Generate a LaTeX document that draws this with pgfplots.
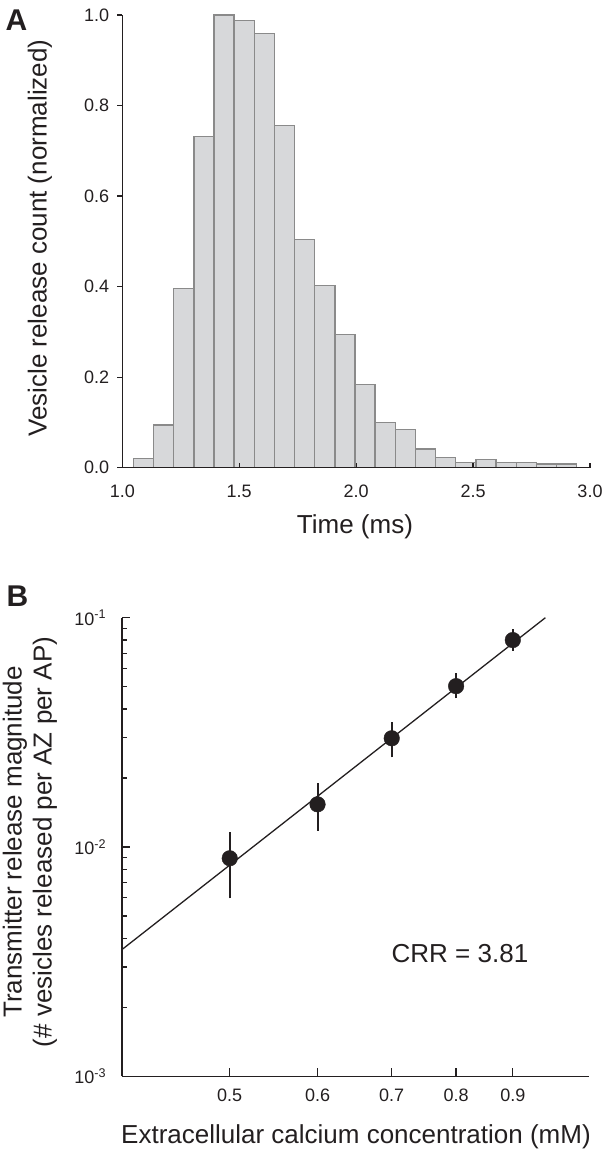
\documentclass[border=0pt]{standalone}
\usepackage{fontspec}
\setmainfont{Liberation Sans}
\usepackage{pgfplots}
\pgfplotsset{compat=1.18}
\definecolor{barfill}{HTML}{D7D8DA}
\definecolor{baredge}{HTML}{8A8A8A}
\definecolor{ink}{HTML}{231F20}
\begin{document}
\begin{tikzpicture}
\useasboundingbox (0pt,0pt) rectangle (603pt,1153pt);
% ---------------- Panel A ----------------
\begin{axis}[
  at={(122.3pt,685.3pt)}, anchor=south west,
  scale only axis, width=467.7pt, height=452.7pt,
  xmin=1, xmax=3, ymin=0, ymax=1,
  axis x line*=bottom, axis y line*=left,
  axis line style={line width=1.6pt, color=ink},
  axis on top, clip=false,
  xtick={1,1.5,2,2.5,3}, xticklabels={1.0,1.5,2.0,2.5,3.0},
  ytick={0,0.2,0.4,0.6,0.8,1}, yticklabels={0.0,0.2,0.4,0.6,0.8,1.0},
  xtick align=inside, ytick align=outside,
  major tick length=5pt,
  tick style={line width=1.2pt, color=ink},
  tick label style={font=\fontsize{18}{21}\selectfont, text=ink},
  xticklabel style={anchor=base, inner sep=0pt, yshift=-29.6pt},
  yticklabel style={anchor=east, inner sep=0pt, xshift=-8pt},
  xlabel={Time (ms)},
  xlabel style={at={(axis description cs:0.4975,-0.131)}, anchor=center, font=\fontsize{26}{30}\selectfont, text=ink},
  ylabel={Vesicle release count (normalized)},
  ylabel style={at={(axis description cs:-0.176,0.507)}, anchor=center, font=\fontsize{26}{30}\selectfont, text=ink},
]
\addplot[ybar interval, fill=barfill, draw=baredge, line width=1.3pt] coordinates {
(1.047,0.020) (1.133,0.094) (1.219,0.396) (1.306,0.731) (1.392,1.000)
(1.478,0.988) (1.564,0.959) (1.650,0.756) (1.737,0.504) (1.823,0.402)
(1.909,0.294) (1.995,0.184) (2.081,0.100) (2.168,0.085) (2.254,0.041)
(2.340,0.022) (2.426,0.012) (2.512,0.018) (2.598,0.012) (2.685,0.012)
(2.771,0.008) (2.857,0.008) (2.943,0.008)
};
\end{axis}
% ---------------- Panel B ----------------
\begin{axis}[
  at={(122.3pt,76.7pt)}, anchor=south west,
  scale only axis, width=467pt, height=458.6pt,
  xmode=log, ymode=log,
  xmin=0.4, xmax=1.055, ymin=0.001, ymax=0.1,
  axis x line*=bottom, axis y line*=left,
  axis line style={line width=1.6pt, color=ink},
  clip=false,
  xtick={0.5,0.6,0.7,0.8,0.9}, xticklabels={0.5,0.6,0.7,0.8,0.9},
  ytick={0.001,0.01,0.1},
  yticklabels={10\textsuperscript{-3},10\textsuperscript{-2},10\textsuperscript{-1}},
  xminorticks=false,
  tick align=inside, major tick length=8pt, minor tick length=5pt,
  tick style={line width=1.2pt, color=ink},
  minor tick style={line width=1.2pt, color=ink},
  tick label style={font=\fontsize{18}{21}\selectfont, text=ink},
  xticklabel style={anchor=base, inner sep=0pt, yshift=-25.4pt},
  yticklabel style={anchor=east, inner sep=0pt, xshift=-16pt},
  xlabel={Extracellular calcium concentration (mM)},
  xlabel style={at={(axis description cs:0.5004,-0.1324)}, anchor=center, font=\fontsize{26}{30}\selectfont, text=ink},
  ylabel={Transmitter release magnitude\\(\# vesicles released per AZ per AP)},
  ylabel style={at={(axis description cs:-0.1976,0.511)}, anchor=center, align=center, font=\fontsize{26}{30}\selectfont, text=ink},
]
\addplot[ink, line width=1.3pt] coordinates {(0.4,0.00358) (0.963,0.1)};
% error bars (low, high)
\addplot[ink, line width=2pt] coordinates {(0.5,0.00597) (0.5,0.01167)};
\addplot[ink, line width=2pt] coordinates {(0.6,0.01178) (0.6,0.01897)};
\addplot[ink, line width=2pt] coordinates {(0.7,0.0246) (0.7,0.0352)};
\addplot[ink, line width=2pt] coordinates {(0.8,0.0445) (0.8,0.0575)};
\addplot[ink, line width=2pt] coordinates {(0.9,0.0718) (0.9,0.089)};
\addplot[only marks, mark=*, mark size=7.8pt, mark options={fill=ink, draw=ink}]
  coordinates {(0.5,0.00893) (0.6,0.01535) (0.7,0.0298) (0.8,0.0503) (0.9,0.0799)};
\node[font=\fontsize{26}{30}\selectfont, text=ink] at (axis description cs:0.7231,0.2667) {CRR = 3.81};
\end{axis}
\node[font=\bfseries\fontsize{30}{34}\selectfont, text=ink] at (16.5pt,1133pt) {A};
\node[font=\bfseries\fontsize{30}{34}\selectfont, text=ink] at (17.5pt,556.5pt) {B};
\end{tikzpicture}
\end{document}
